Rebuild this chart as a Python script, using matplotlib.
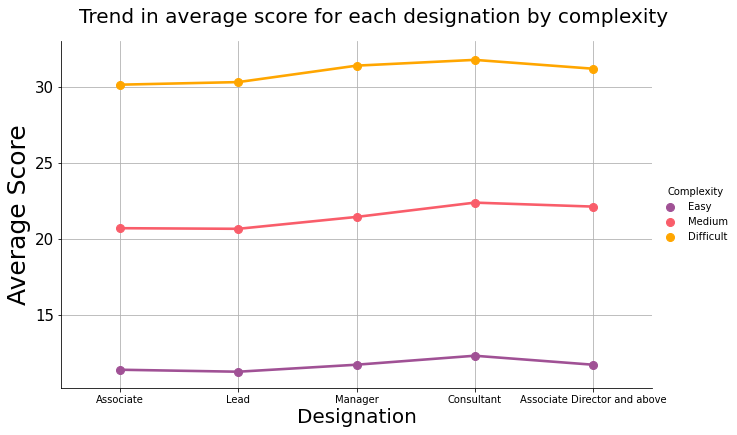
import matplotlib

matplotlib.use("Agg")

import matplotlib.pyplot as plt
import numpy as np

designations = ["Associate", "Lead", "Manager", "Consultant", "Associate Director and above"]
complexities = ["Easy", "Medium", "Difficult"]
easy = [11.40, 11.27, 11.73, 12.32, 11.73]
medium = [20.70, 20.66, 21.44, 22.38, 22.12]
difficult = [30.13, 30.30, 31.38, 31.76, 31.18]
colors = ["#a05195", "#f95d6a", "#ffa600"]

fig = plt.figure(figsize=(737 / 72, 435 / 72), dpi=72)
ax = fig.add_axes([61 / 737, 1 - 388 / 435, (652 - 61) / 737, (388 - 41) / 435])

x = np.arange(len(designations))
for name, vals, c in zip(complexities, [easy, medium, difficult], colors):
    ax.plot(x, vals, color=c, linewidth=2.6, marker="o", markersize=8, label=name, zorder=3)

ax.set_xlim(-0.5, 4.5)
ax.set_ylim(10.2, 33)
ax.set_xticks(x)
ax.set_xticklabels(designations, fontsize=10)
ax.set_yticks([15, 20, 25, 30])
ax.tick_params(axis="y", labelsize=15)
ax.grid(True, color="#b0b0b0", linewidth=0.8)
ax.set_axisbelow(True)
for s in ["top", "right"]:
    ax.spines[s].set_visible(False)

ax.set_xlabel("Designation", fontsize=20, labelpad=3)
ax.set_ylabel("Average Score", fontsize=25)
fig.suptitle("Trend in average score for each designation by complexity",
             fontsize=20, x=0.507, y=0.982)

leg = ax.legend(
    title="Complexity",
    loc="center left",
    bbox_to_anchor=(1.005, 0.5),
    frameon=False,
    fontsize=10,
    title_fontsize=10,
    handlelength=1.2,
    handletextpad=1.2,
)
for h in leg.legend_handles:
    h.set_linestyle("none")

fig.savefig("out.png", dpi=72)
